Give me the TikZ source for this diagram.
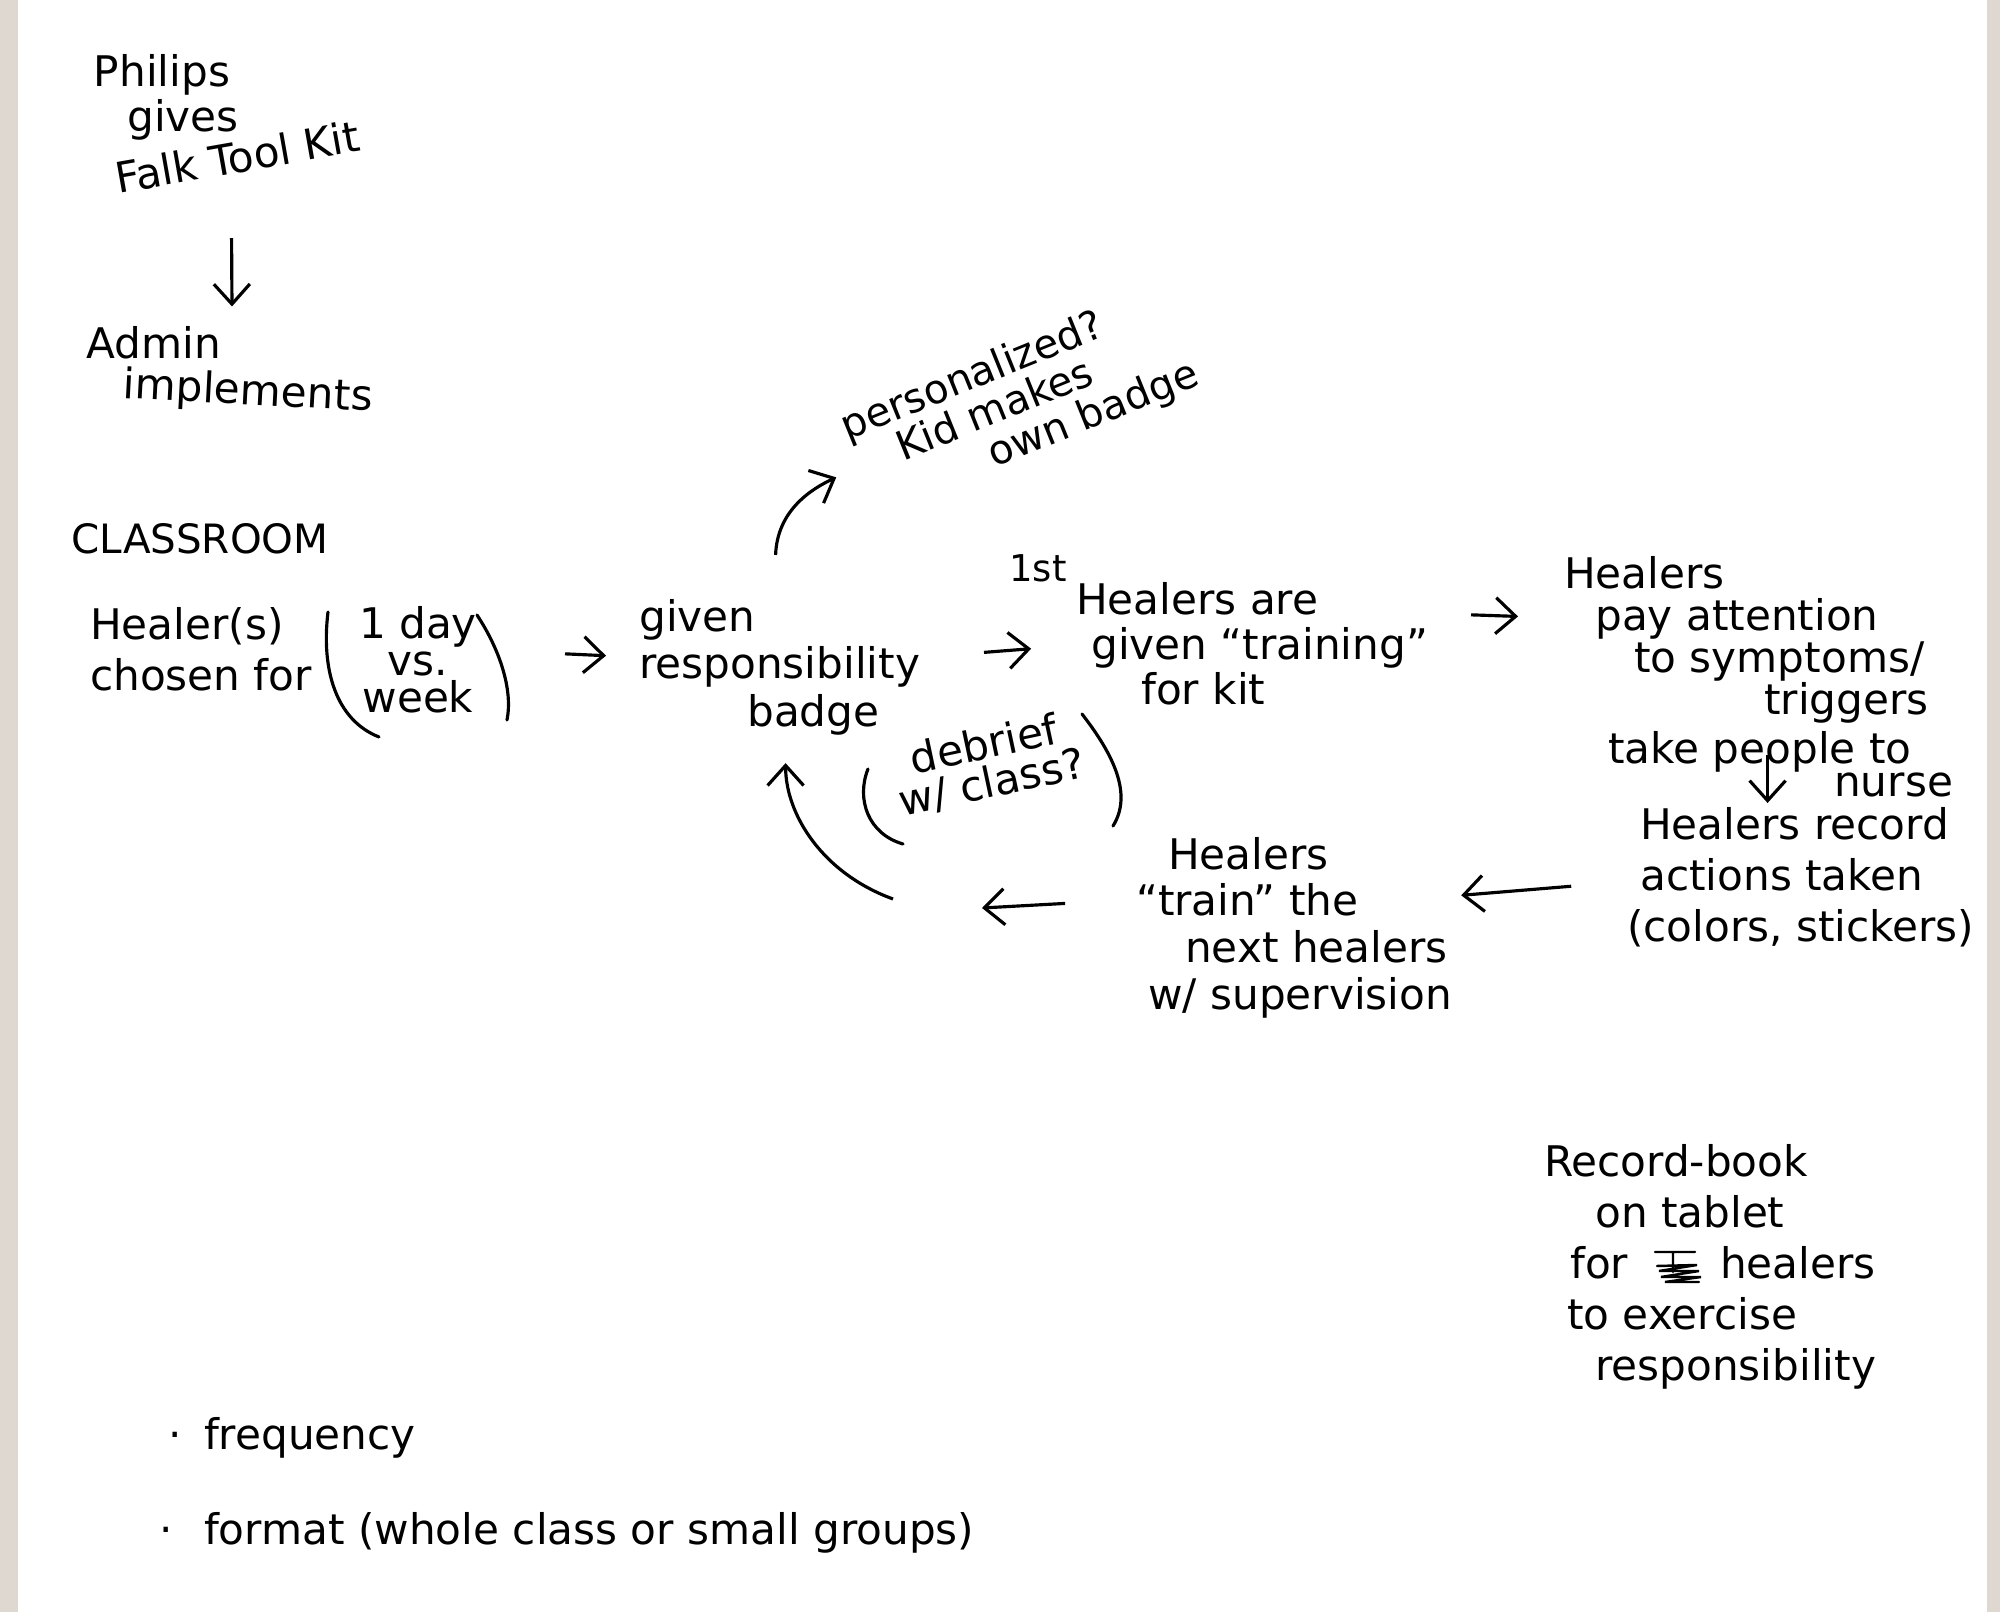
\documentclass[tikz,border=0pt]{standalone}
\usepackage{fontspec}
\setmainfont{DejaVu Sans}
\usepackage{tikz}
\usetikzlibrary{arrows.meta,positioning,calc}

\definecolor{paperedge}{RGB}{222,216,208}
\newcommand{\handfont}{\fontsize{12}{13.5}\selectfont}

\begin{document}
\begin{tikzpicture}[>={Straight Barb[length=2mm,width=3.6mm]},
    txt/.style={inner sep=1pt,align=left,font=\handfont},
    arr/.style={->,line width=0.9pt},
    pen/.style={line width=0.9pt,line cap=round}]
  \useasboundingbox (0,0) rectangle (20,-16.12);
  % speckled paper edges
  \fill[paperedge] (0,0) rectangle (0.18,-16.12);
  \fill[paperedge] (19.87,0) rectangle (20,-16.12);

  % kit and admin
  \node[txt] (philips) at (1.62,-0.75) {Philips};
  \node[txt] (gives) at (1.83,-1.20) {gives};
  \node[txt,rotate=10] (falk) at (2.37,-1.57) {Falk Tool Kit};
  \node[txt] (admin) at (1.54,-3.43) {Admin};
  \node[txt,rotate=-3] (impl) at (2.48,-3.93) {implements};
  \draw[arr] ([xshift=-0.09cm,yshift=-0.61cm]falk.south) -- ([xshift=0.78cm,yshift=0.16cm]admin.north);

  % classroom cycle
  \node[txt,font=\fontsize{11.5}{13}\selectfont] (room) at (2.0,-5.39) {CLASSROOM};
  \node[txt,anchor=north west,font=\fontsize{12}{14.5}\selectfont] (healer) at (0.86,-6.03) {Healer(s)\\chosen for};
  \node[txt,align=center,font=\fontsize{12}{10.5}\selectfont] (days) at (4.18,-6.60) {1 day\\vs.\\week};
  \draw[pen] ([shift={(-0.90,0.48)}]days.center) .. controls ([shift={(-0.97,-0.1)}]days.center) and ([shift={(-0.82,-0.6)}]days.center) .. ([shift={(-0.39,-0.77)}]days.center);
  \draw[pen] ([shift={(0.59,0.45)}]days.center) .. controls ([shift={(0.82,0.1)}]days.center) and ([shift={(0.95,-0.3)}]days.center) .. ([shift={(0.89,-0.60)}]days.center);

  \node[txt,anchor=north west] (badge) at (6.35,-5.95) {given\\responsibility\\\hspace*{1.08cm}badge};
  \draw[arr,shorten <=0.84cm,shorten >=0.29cm] ([yshift=0.1cm]days.east) -- ([yshift=0.1cm]badge.west);

  \node[txt,rotate=22,font=\fontsize{11.5}{11.5}\selectfont] (pers) at (10.20,-4.02) {personalized?\\\hspace*{0.44cm}Kid makes\\\hspace*{1.26cm}own badge};
  \draw[arr,shorten >=0.2cm] ([xshift=-0.04cm,yshift=0.4cm]badge.north) to[out=88,in=205] (pers.west);

  \node[txt,font=\fontsize{10.5}{12}\selectfont] (first) at (10.38,-5.68) {1st};
  \node[txt,anchor=north west,font=\fontsize{12}{12.8}\selectfont] (train) at (10.72,-5.78) {Healers are\\\hspace*{0.15cm}given “training”\\\hspace*{0.65cm}for kit};
  \draw[arr,shorten <=0.6cm,shorten >=0.41cm] ([yshift=0.1cm]badge.east) -- ([yshift=-0.02cm]train.west);

  \node[txt,anchor=north west,font=\fontsize{12}{12}\selectfont] (pay) at (15.60,-5.52) {Healers\\\hspace*{0.31cm}pay attention\\\hspace*{0.70cm}to symptoms/\\\hspace*{2.0cm}triggers};
  \draw[arr,shorten <=0.39cm,shorten >=0.42cm] ([yshift=0.3cm]train.east) -- ([yshift=0.22cm]pay.west);

  \node[txt,anchor=north west,font=\fontsize{12}{9.5}\selectfont] (nurse) at (16.04,-7.27) {take people to\\\hspace*{2.26cm}nurse};
  \node[txt,anchor=north west,font=\fontsize{12}{14.5}\selectfont] (record) at (16.23,-8.03) {\hspace*{0.13cm}Healers record\\\hspace*{0.13cm}actions taken\\(colors, stickers)};
  \draw[arr] ([xshift=-0.13cm,yshift=0.46cm]nurse.south) -- ([xshift=-0.13cm]nurse.south |- record.north);

  \node[txt,anchor=north west,font=\fontsize{12}{13.3}\selectfont] (teach) at (11.32,-8.33) {\hspace*{0.32cm}Healers\\“train” the\\\hspace*{0.49cm}next healers\\\hspace*{0.12cm}w/ supervision};
  \draw[arr,shorten <=0.52cm,shorten >=0.05cm] ([yshift=-0.05cm]record.west) -- ([yshift=0.32cm]teach.east);

  \coordinate (back) at (9.82,-9.08);
  \coordinate (loop) at (8.93,-8.99);
  \draw[arr,shorten <=0.67cm] ([yshift=0.28cm]teach.west) -- (back);
  \draw[arr,shorten >=0.24cm] (loop) to[out=160,in=-90] ([xshift=0.06cm]badge.south);

  \node[txt,rotate=12,align=center,font=\fontsize{12}{11}\selectfont] (debrief) at (9.88,-7.64) {debrief\\w/ class?};
  \draw[pen] ([shift={(-1.20,-0.05)}]debrief.center) .. controls ([shift={(-1.32,-0.35)}]debrief.center) and ([shift={(-1.2,-0.7)}]debrief.center) .. ([shift={(-0.85,-0.80)}]debrief.center);
  \draw[pen] ([shift={(0.94,0.50)}]debrief.center) .. controls ([shift={(1.25,0.1)}]debrief.center) and ([shift={(1.45,-0.3)}]debrief.center) .. ([shift={(1.25,-0.62)}]debrief.center);

  % record book note
  \node[txt,anchor=north west,font=\fontsize{12}{14.5}\selectfont] (recbook) at (15.40,-11.40) {Record-book\\\hspace*{0.51cm}on tablet\\\hspace*{0.26cm}for\hspace{0.92cm}healers\\\hspace*{0.23cm}to exercise\\\hspace*{0.51cm}responsibility};
  \draw[pen,line width=0.7pt] ([shift={(1.15,-1.12)}]recbook.north west) -- ++(0.4,0) ++(-0.22,0) -- ++(0,-0.2) ++(-0.16,0.06) -- ++(0.4,0.01) -- ++(-0.38,-0.06) -- ++(0.4,0) -- ++(-0.38,-0.06) -- ++(0.4,0) -- ++(-0.36,-0.05) -- ++(0.34,0);

  % open questions
  \node[txt,anchor=base west] (freq) at (1.645,-14.50) {·\hspace{0.22cm}frequency};
  \node[txt,anchor=base west] (fmt) at (1.555,-15.45) {·\hspace{0.31cm}format (whole class or small groups)};
\end{tikzpicture}
\end{document}
